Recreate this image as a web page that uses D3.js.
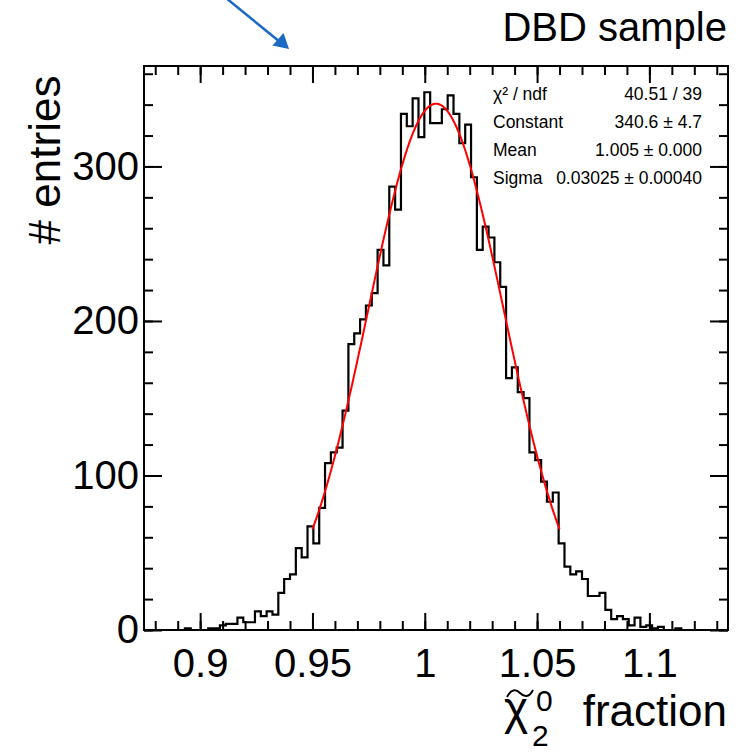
<!DOCTYPE html>
<html><head><meta charset="utf-8">
<script src="https://cdn.jsdelivr.net/npm/d3@7"></script>
<style>
body{margin:0;background:#fff}
text{font-family:"Liberation Sans",Arial,Helvetica,sans-serif;fill:#000}
</style>
</head><body>
<svg id="c" width="744" height="753"></svg>
<script>
// ---------- data ----------
const histRange = [0.875, 1.135];          // axis / binning range
const nBins = 100;
const counts = [
  0,0,0,0,0,0,0,1,0,0,
  0,1,1,3,4,4,8,5,5,12,
  9,12,10,24,33,36,53,47,67,56,
  79,108,115,118,142,185,192,201,210,218,
  246,236,287,272,334,326,344,319,348,328,
  328,337,346,334,315,327,293,246,261,254,
  238,222,163,170,154,150,115,110,96,83,
  89,56,41,36,38,33,22,22,24,13,
  7,9,7,3,8,2,3,1,2,0,
  0,1,0,0,0,0,0,0,0,0
];
const yMax = 365;
const xMajorTicks = [0.9, 0.95, 1, 1.05, 1.1];
const xTickLabels = ["0.9", "0.95", "1", "1.05", "1.1"];
const xMinorTicks = d3.range(88, 114).map(v => v / 100);
const yMajorTicks = [0, 100, 200, 300];
const yTickLabels = ["0", "100", "200", "300"];
const yMinorTicks = d3.range(0, 361, 20);
const fitConstant = 340.6, fitMean = 1.005, fitSigma = 0.03025;
const fitRange = [0.95, 1.06];
const statLabels = ["χ² / ndf", "Constant", "Mean", "Sigma"];
const statValues = ["40.51 / 39", "340.6 ± 4.7", "1.005 ± 0.000", "0.03025 ± 0.00040"];

// ---------- layout ----------
const svg = d3.select("#c");
const L = 144, R = 728, T = 66, B = 630;
const x = d3.scaleLinear().domain(histRange).range([L, R]);
const y = d3.scaleLinear().domain([0, yMax]).range([B, T]);

// histogram
const bw = (histRange[1] - histRange[0]) / nBins;
const edges = d3.range(nBins + 1).map(i => histRange[0] + i * bw);
let pts = [[edges[0], 0]];
counts.forEach((c, i) => { pts.push([edges[i], c]); pts.push([edges[i + 1], c]); });
pts.push([edges[nBins], 0]);
svg.append("path")
  .attr("d", d3.line().x(d => x(d[0])).y(d => y(d[1]))(pts))
  .attr("fill", "none").attr("stroke", "#000").attr("stroke-width", 2.2)
  .attr("stroke-linejoin", "miter");

// fit curve (Gaussian defined by the fit parameters)
const fx = d3.range(0, 201).map(i => fitRange[0] + i * (fitRange[1] - fitRange[0]) / 200);
svg.append("path")
  .attr("d", d3.line().x(d => x(d)).y(d => y(fitConstant * Math.exp(-0.5 * ((d - fitMean) / fitSigma) ** 2)))(fx))
  .attr("fill", "none").attr("stroke", "#ff0000").attr("stroke-width", 2);

// axes (ticks inward, mirrored)
function styleAxis(g) {
  g.select(".domain").remove();
  g.selectAll("line").attr("stroke", "#000").attr("stroke-width", 2);
}
svg.append("g").attr("transform", `translate(0,${B})`)
  .call(d3.axisBottom(x).tickValues(xMinorTicks).tickSize(-9).tickFormat(""))
  .call(styleAxis);
svg.append("g").attr("transform", `translate(0,${B})`)
  .call(d3.axisBottom(x).tickValues(xMajorTicks).tickSize(-17).tickPadding(19)
    .tickFormat((d, i) => xTickLabels[i]))
  .call(styleAxis)
  .call(g => g.selectAll("text").attr("font-size", 40).attr("font-family", "Liberation Sans, Arial, sans-serif"));
svg.append("g").attr("transform", `translate(0,${T})`)
  .call(d3.axisTop(x).tickValues(xMinorTicks).tickSize(-9).tickFormat(""))
  .call(styleAxis);
svg.append("g").attr("transform", `translate(0,${T})`)
  .call(d3.axisTop(x).tickValues(xMajorTicks).tickSize(-17).tickFormat(""))
  .call(styleAxis);

svg.append("g").attr("transform", `translate(${L},0)`)
  .call(d3.axisLeft(y).tickValues(yMinorTicks).tickSize(-9).tickFormat(""))
  .call(styleAxis);
svg.append("g").attr("transform", `translate(${L},0)`)
  .call(d3.axisLeft(y).tickValues(yMajorTicks).tickSize(-18).tickPadding(5)
    .tickFormat((d, i) => yTickLabels[i]))
  .call(styleAxis)
  .call(g => g.selectAll("text").attr("font-size", 40).attr("font-family", "Liberation Sans, Arial, sans-serif"));
svg.append("g").attr("transform", `translate(${R},0)`)
  .call(d3.axisRight(y).tickValues(yMinorTicks).tickSize(-9).tickFormat(""))
  .call(styleAxis);
svg.append("g").attr("transform", `translate(${R},0)`)
  .call(d3.axisRight(y).tickValues(yMajorTicks).tickSize(-18).tickFormat(""))
  .call(styleAxis);

// frame
svg.append("rect").attr("x", L).attr("y", T).attr("width", R - L).attr("height", B - T)
  .attr("fill", "none").attr("stroke", "#000").attr("stroke-width", 2);

// stats box
statLabels.forEach((s, i) => {
  svg.append("text").attr("x", 493).attr("y", 100 + i * 28).attr("font-size", 17.5).text(s);
  svg.append("text").attr("x", 702).attr("y", 100 + i * 28).attr("font-size", 17.5)
    .attr("text-anchor", "end").text(statValues[i]);
});

// axis titles
svg.append("text").attr("transform", "translate(60,160) rotate(-90)")
  .attr("text-anchor", "middle").attr("font-size", 44).text("# entries");

svg.append("text").attr("x", 727).attr("y", 41).attr("text-anchor", "end")
  .attr("font-size", 40).text("DBD sample");

svg.append("text").attr("x", 727).attr("y", 726).attr("text-anchor", "end")
  .attr("font-size", 44).text("fraction");
svg.append("text").attr("x", 504).attr("y", 724)
  .attr("font-family", "Noto Sans, DejaVu Sans, sans-serif").attr("font-size", 46).text("χ");
svg.append("path").attr("d", "M507,697 C511,689 516,689 520,693 C524,697 529,698 533,690")
  .attr("fill", "none").attr("stroke", "#000").attr("stroke-width", 2);
svg.append("text").attr("x", 532).attr("y", 746).attr("font-size", 30).text("2");
svg.append("text").attr("x", 536).attr("y", 711).attr("font-size", 30).text("0");

// arrow annotation
const arrowColor = "#1b69c2";
svg.append("line").attr("x1", 226).attr("y1", -2).attr("x2", 280).attr("y2", 42)
  .attr("stroke", arrowColor).attr("stroke-width", 2.5);
svg.append("path").attr("d", "M289,49 L272.5,45.5 L283.5,33 Z").attr("fill", arrowColor);
</script>
</body></html>
